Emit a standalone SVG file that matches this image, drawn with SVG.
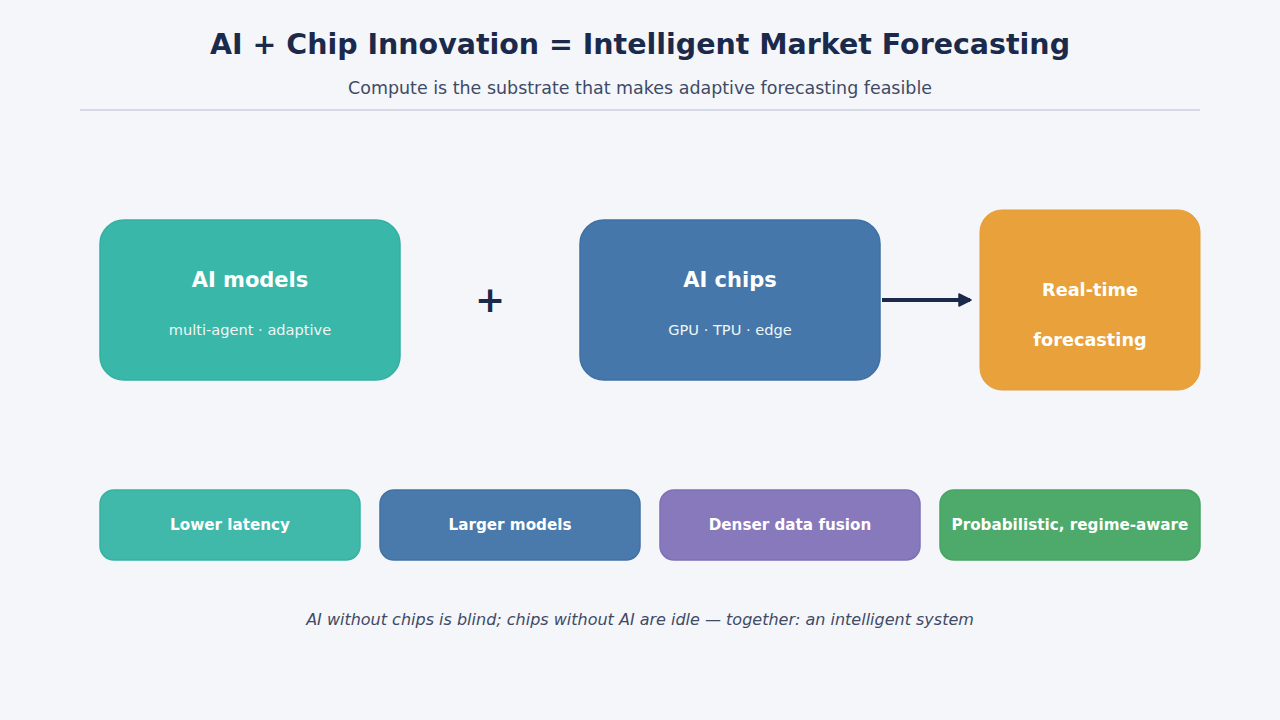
<svg xmlns="http://www.w3.org/2000/svg" width="1280" height="720" viewBox="0 0 1280 720">
<defs>
<style>
text{font-family:"DejaVu Sans","Liberation Sans",sans-serif;text-anchor:middle}
.t{font-weight:bold;fill:#1b2a4a}
.w{fill:#fff;font-weight:bold}
.s{fill:#eef6f6;font-size:14.6px}
.b{font-size:15.2px}
</style>
<marker id="ah" markerWidth="14" markerHeight="14" refX="12" refY="7" orient="auto" markerUnits="userSpaceOnUse" viewBox="0 0 14 14">
<path d="M1,1 L13,7 L1,13 z" fill="#1b2a4a" stroke="#1b2a4a" stroke-width="1.5" stroke-linejoin="round"/>
</marker>
</defs>
<rect width="1280" height="720" fill="#f4f6fa"/>
<text class="t" x="640" y="54" font-size="28" textLength="860" lengthAdjust="spacingAndGlyphs">AI + Chip Innovation = Intelligent Market Forecasting</text>
<text x="640" y="94" font-size="17" fill="#3f4a66" textLength="584" lengthAdjust="spacingAndGlyphs">Compute is the substrate that makes adaptive forecasting feasible</text>
<line x1="80" y1="110" x2="1200" y2="110" stroke="#d5d9e6" stroke-width="2"/>
<g id="node-ai-models">
<rect x="100" y="220" width="300" height="160" rx="24" fill="#39b7a9" stroke="#34b0a2" stroke-width="1.5"/>
<text class="w" x="250" y="287" font-size="21">AI models</text>
<text class="s" x="250" y="335">multi-agent · adaptive</text>
</g>
<g id="node-plus"><text class="t" x="490" y="312" font-size="36">+</text></g>
<g id="node-ai-chips">
<rect x="580" y="220" width="300" height="160" rx="24" fill="#4577aa" stroke="#3f70a3" stroke-width="1.5"/>
<text class="w" x="730" y="287" font-size="21">AI chips</text>
<text class="s" x="730" y="335">GPU · TPU · edge</text>
</g>
<g id="node-realtime">
<rect x="980" y="210" width="220" height="180" rx="22" fill="#e8a13b" stroke="#e49c36" stroke-width="1"/>
<text class="w" x="1090" y="296" font-size="17.7">Real-time</text>
<text class="w" x="1090" y="346" font-size="17.7">forecasting</text>
</g>
<g id="connectors">
<line x1="882" y1="300" x2="970" y2="300" stroke="#1b2a4a" stroke-width="4" marker-end="url(#ah)"/>
</g>
<g id="node-latency">
<rect x="100" y="490" width="260" height="70" rx="14" fill="#40b8aa" stroke="#36b2a3" stroke-width="1.5"/>
<text class="w b" x="230" y="529.5">Lower latency</text>
</g>
<g id="node-larger">
<rect x="380" y="490" width="260" height="70" rx="14" fill="#4a7aab" stroke="#4271a4" stroke-width="1.5"/>
<text class="w b" x="510" y="529.5">Larger models</text>
</g>
<g id="node-fusion">
<rect x="660" y="490" width="260" height="70" rx="14" fill="#8878bc" stroke="#7f6fb5" stroke-width="1.5"/>
<text class="w b" x="790" y="530">Denser data fusion</text>
</g>
<g id="node-prob">
<rect x="940" y="490" width="260" height="70" rx="14" fill="#4eaa6a" stroke="#46a563" stroke-width="1.5"/>
<text class="w b" x="1070" y="529.5">Probabilistic, regime-aware</text>
</g>
<text x="640" y="625" font-size="16" font-style="italic" fill="#3f4a66">AI without chips is blind; chips without AI are idle — together: an intelligent system</text>
</svg>
